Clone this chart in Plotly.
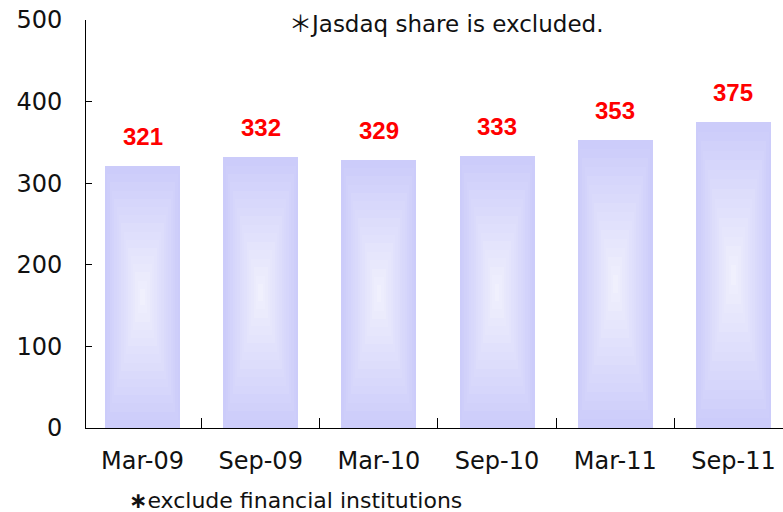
import plotly.graph_objects as go

# ---- data ----
categories = ["Mar-09", "Sep-09", "Mar-10", "Sep-10", "Mar-11", "Sep-11"]
values = [321, 332, 329, 333, 353, 375]
value_labels = ["321", "332", "329", "333", "353", "375"]
y_ticks = [0, 100, 200, 300, 400, 500]
note_top = "＊Jasdaq share is excluded."
note_bottom = "<b>∗</b>exclude financial institutions"

# ---- style ----
BAR_W = 0.635
EDGE = (204, 204, 250)
CENTER = (242, 242, 253)
N_LAYERS = 16
TICK_FONT = dict(family="DejaVu Sans", size=24, color="#111111")
NOTE_FONT = dict(family="DejaVu Sans, Noto Sans CJK JP", size=23, color="#111111")
NOTE2_FONT = dict(family="DejaVu Sans", size=22, color="#111111")
LABEL_FONT = dict(family="Liberation Sans, Arial", size=24, color="#ff0000", weight="bold")

fig = go.Figure()

# concentric layers give the bars their soft rectangular gradient
for k in range(N_LAYERS):
    t = k / N_LAYERS
    col = tuple(round(e + (c - e) * t) for e, c in zip(EDGE, CENTER))
    fig.add_trace(go.Bar(
        x=categories,
        y=[v * (1 - t) for v in values],
        base=[v * t / 2 for v in values],
        width=BAR_W * (1 - t),
        marker=dict(color=f"rgb{col}", line=dict(width=0)),
        hoverinfo="skip",
        showlegend=False,
    ))

annotations = []
for c, v, lab in zip(categories, values, value_labels):
    annotations.append(dict(
        x=c, y=v, xref="x", yref="y", text=lab, showarrow=False,
        yanchor="bottom", yshift=14, font=LABEL_FONT,
    ))

annotations.append(dict(
    x=0.5165, y=0.99, xref="paper", yref="paper", text=note_top,
    showarrow=False, xanchor="center", yanchor="middle", font=NOTE_FONT,
))
annotations.append(dict(
    x=0.301, y=-0.178, xref="paper", yref="paper", text=note_bottom,
    showarrow=False, xanchor="center", yanchor="middle", font=NOTE2_FONT,
))

fig.update_layout(
    width=783, height=512,
    margin=dict(l=86, r=0, t=20, b=84, autoexpand=False),
    paper_bgcolor="white", plot_bgcolor="white",
    barmode="overlay",
    bargap=0,
    annotations=annotations,
    xaxis=dict(
        type="category",
        range=[-0.478, 5.419],
        automargin=False,
        showline=True, linecolor="black", linewidth=1,
        ticks="inside", tickson="boundaries", ticklen=10, tickcolor="black",
        tickfont=TICK_FONT, ticklabelstandoff=11,
        showgrid=False, zeroline=False, fixedrange=True,
    ),
    yaxis=dict(
        range=[0, 500],
        tickvals=y_ticks,
        automargin=False,
        showline=True, linecolor="black", linewidth=1,
        ticks="inside", ticklen=6, tickcolor="black",
        tickfont=TICK_FONT, ticklabelstandoff=18,
        showgrid=False, zeroline=False, fixedrange=True,
    ),
)

fig.write_html(
    "out.html",
    config={"displayModeBar": False},
    post_script="document.body.style.margin='0';document.body.style.padding='0';",
)
